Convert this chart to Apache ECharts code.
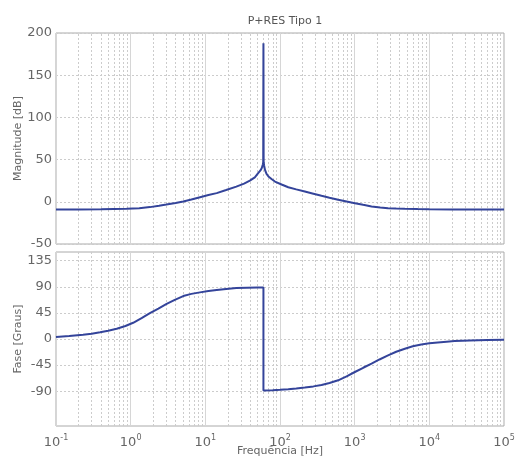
<!DOCTYPE html>
<html><head><meta charset="utf-8">
<script src="https://cdn.jsdelivr.net/npm/echarts@6/dist/echarts.min.js"></script>
<style>html,body{margin:0;padding:0;background:#fff}#c{width:515px;height:457px}</style>
</head><body><div id="c"></div>
<script>
const title = 'P+RES Tipo 1';
const magName = 'Magnitude [dB]';
const phaseName = 'Fase [Graus]';
const freqName = 'Frequência [Hz]';
const magTicks = [-50, 0, 50, 100, 150, 200];
const phaseTicks = [-90, -45, 0, 45, 90, 135];
const decades = [0.1, 1, 10, 100, 1000, 10000, 100000];
// magnitude [Hz, dB]
const magnitude = [
  [0.1, -9], [0.2, -9], [0.4, -8.8], [0.88, -8.3], [1.3, -7.5], [1.81, -6.3], [2.4, -4.8],
  [3.0, -3.3], [4, -1.3], [5.06, 0.4], [6.5, 2.8], [8.5, 5.5], [11, 8], [14.2, 10.3],
  [19, 14], [26, 18], [33, 21.5], [39.5, 25], [46, 29], [51, 34], [55, 37.5], [57, 40],
  [58.8, 44], [59.6, 47], [60, 188], [60.4, 47], [61.3, 43], [62.8, 38], [66, 33], [70, 30],
  [77, 27], [85.5, 24], [105, 20.5], [129, 17.3], [165, 14.7], [215, 12.2], [280, 9.6],
  [360, 7.1], [460, 4.8], [601, 2.4], [780, 0.4], [1006, -1.6], [1300, -3.6], [1683, -5.5],
  [2200, -6.7], [2800, -7.5], [3600, -8.0], [4700, -8.3], [7000, -8.6], [10000, -8.8],
  [20000, -9.0], [33000, -9.1], [100000, -9.1]
];
// phase [Hz, deg]
const phase = [
  [0.1, 3.4], [0.15, 5], [0.23, 7.5], [0.3, 9.2], [0.39, 11.5], [0.5, 14.2], [0.65, 17.8],
  [0.85, 22.5], [1.08, 28], [1.4, 36], [1.81, 44.5], [2.35, 52.5], [3.03, 60.5], [3.9, 67.5],
  [5.06, 74], [6.5, 77.8], [8.47, 80.4], [11, 82.6], [14.2, 84.4], [19, 86.3], [26, 87.8],
  [36, 88.5], [50, 88.9], [60, 89], [60, -89], [80, -88.2], [100, -87.5], [129, -86.6],
  [165, -85.3], [215, -83.7], [280, -81.7], [360, -79.2], [460, -75.8], [601, -71.2],
  [780, -64.5], [1006, -56.9], [1300, -49.6], [1683, -42.5], [2150, -35.3], [2800, -28.3],
  [3600, -22], [4700, -16.8], [6000, -12.6], [7800, -9.4], [10000, -7.4], [13000, -5.9],
  [17000, -4.6], [21800, -3.6], [35000, -2.6], [60000, -1.9], [100000, -1.3]
];

const minorLines = [];
for (let d = 0; d < decades.length - 1; d++) {
  for (let k = 2; k <= 9; k++) minorLines.push({xAxis: decades[d] * k});
}
const gridColor = '#cccccc';
const labelColor = '#666';
const lineColor = '#34449a';
const fontFamily = 'DejaVu Sans, sans-serif';

function xAxisCfg(gi, showLabels) {
  return {
    type: 'log', logBase: 10, gridIndex: gi, min: 0.1, max: 100000,
    axisLine: {show: false}, axisTick: {show: false},
    splitLine: {show: true, lineStyle: {color: '#d6d6d6', type: 'solid', width: 1}},
    axisLabel: showLabels ? {
      show: true, color: labelColor, margin: 8, fontFamily,
      formatter: v => '{b|10}{s|' + Math.round(Math.log10(v)) + '}',
      rich: {b: {fontSize: 13, color: labelColor, fontFamily}, s: {fontSize: 8, color: labelColor, fontFamily, padding: [0, 0, 9, 0]}}
    } : {show: false},
    name: showLabels ? freqName : '', nameLocation: 'middle', nameGap: 20, nameMoveOverlap: false,
    nameTextStyle: {color: '#666', fontSize: 11, fontFamily}
  };
}
function yAxisCfg(gi, min, max, ticks, name) {
  return {
    type: 'value', gridIndex: gi, min, max,
    axisLine: {show: false},
    axisTick: {show: false, customValues: ticks},
    axisLabel: {color: labelColor, fontSize: 13, margin: 4, fontFamily, customValues: ticks},
    splitLine: {show: true, lineStyle: {color: gridColor, type: [2, 2], width: 1}},
    name, nameLocation: 'middle', nameGap: 32, nameMoveOverlap: false,
    nameTextStyle: {color: '#666', fontSize: 11, fontFamily}
  };
}
const chart = echarts.init(document.getElementById('c'), null, {renderer: 'canvas'});
chart.setOption({
  animation: false,
  backgroundColor: '#fff',
  title: {text: title, left: 280, top: 11, textAlign: 'center',
    textStyle: {fontSize: 11, fontWeight: 'normal', color: '#555', fontFamily}},
  grid: [
    {left: 56, right: 11, top: 33, height: 211, show: true, borderColor: '#aaa', borderWidth: 1,
      backgroundColor: 'transparent', containLabel: false, outerBoundsMode: 'none'},
    {left: 56, right: 11, top: 252, height: 174, show: true, borderColor: '#aaa', borderWidth: 1,
      backgroundColor: 'transparent', containLabel: false, outerBoundsMode: 'none'}
  ],
  xAxis: [xAxisCfg(0, false), xAxisCfg(1, true)],
  yAxis: [yAxisCfg(0, -50, 200, magTicks, magName), yAxisCfg(1, -150, 150, phaseTicks, phaseName)],
  series: [
    {type: 'line', xAxisIndex: 0, yAxisIndex: 0, data: [], silent: true,
      markLine: {silent: true, symbol: 'none', label: {show: false}, animation: false,
        lineStyle: {color: gridColor, type: [2, 2], width: 1}, data: minorLines}},
    {type: 'line', xAxisIndex: 1, yAxisIndex: 1, data: [], silent: true,
      markLine: {silent: true, symbol: 'none', label: {show: false}, animation: false,
        lineStyle: {color: gridColor, type: [2, 2], width: 1}, data: minorLines}},
    {type: 'line', xAxisIndex: 0, yAxisIndex: 0, data: magnitude, showSymbol: false,
      smooth: false, z: 5, lineStyle: {color: lineColor, width: 2}},
    {type: 'line', xAxisIndex: 1, yAxisIndex: 1, data: phase, showSymbol: false,
      smooth: false, z: 5, lineStyle: {color: lineColor, width: 2}}
  ]
});
</script></body></html>
